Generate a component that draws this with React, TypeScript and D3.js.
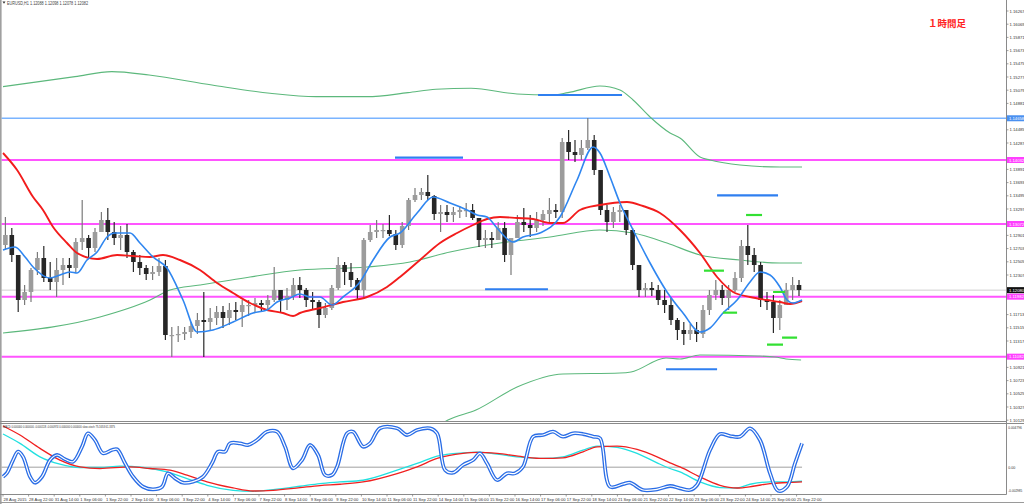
import React from 'react';
import * as d3 from 'd3';

const W = 1024;
const H = 504;

// ---------- axis labels ----------
const PRICE_TICKS = [
  1.16267, 1.16069, 1.15871, 1.15673, 1.15475, 1.15277, 1.15079, 1.14881,
  1.14683, 1.14485, 1.14287, 1.14089, 1.13891, 1.13693, 1.13495, 1.13297,
  1.13099, 1.12901, 1.12703, 1.12505, 1.12307, 1.12109, 1.11911, 1.11713,
  1.11515, 1.11317, 1.11119, 1.10921, 1.10723, 1.10525, 1.10327, 1.10129,
];
const TIME_LABELS = [
  '28 Aug 2015', '28 Aug 22:00', '31 Aug 14:00', '1 Sep 06:00', '1 Sep 22:00', '2 Sep 14:00',
  '3 Sep 06:00', '3 Sep 22:00', '4 Sep 14:00', '7 Sep 06:00', '7 Sep 22:00', '8 Sep 14:00',
  '9 Sep 06:00', '9 Sep 22:00', '10 Sep 14:00', '11 Sep 06:00', '11 Sep 22:00', '14 Sep 14:00',
  '15 Sep 06:00', '15 Sep 22:00', '16 Sep 14:00', '17 Sep 06:00', '17 Sep 22:00', '18 Sep 14:00',
  '21 Sep 06:00', '21 Sep 22:00', '22 Sep 14:00', '23 Sep 06:00', '23 Sep 22:00', '24 Sep 14:00',
  '25 Sep 06:00', '25 Sep 22:00',
];
const HOURS_PER_LABEL = 16;
const HOURS_PER_CANDLE = 4;
const MACD_TICKS = [0.004796, 0, -0.002985];

// ---------- price data (4-hour groups of EURUSD H1) ----------
const OPEN0 = 1.12757;
const HIGHS = [
  1.13177, 1.13012, 1.12607, 1.12157, 1.12412, 1.12652, 1.12742, 1.12502, 1.12562, 1.12562,
  1.12562, 1.12862, 1.13432, 1.12907, 1.13012, 1.13252, 1.13312, 1.13102, 1.13042, 1.13072,
  1.12682, 1.12607, 1.12457, 1.12442, 1.12562, 1.12532, 1.11527, 1.11542, 1.11527, 1.11602,
  1.11737, 1.12052, 1.11812, 1.11842, 1.11842, 1.11887, 1.11902, 1.11932, 1.11932, 1.11962,
  1.11932, 1.12007, 1.12427, 1.12082, 1.12112, 1.12262, 1.12277, 1.12112, 1.12052, 1.11932,
  1.11887, 1.12157, 1.12577, 1.12502, 1.12487, 1.12262, 1.12862, 1.13057, 1.13132, 1.13072,
  1.13207, 1.12982, 1.13102, 1.13462, 1.13612, 1.13612, 1.13807, 1.13507, 1.13357, 1.13357,
  1.13327, 1.13342, 1.13387, 1.13372, 1.13102, 1.12982, 1.12952, 1.13102, 1.13102, 1.12832,
  1.13207, 1.13312, 1.13207, 1.13252, 1.13282, 1.13462, 1.13372, 1.14362, 1.14482, 1.14332,
  1.14332, 1.14662, 1.14407, 1.13882, 1.13357, 1.13327, 1.13357, 1.13282, 1.13012, 1.12457,
  1.12187, 1.12202, 1.12157, 1.12082, 1.11962, 1.11662, 1.11602, 1.11572, 1.11602, 1.11857,
  1.12082, 1.12232, 1.12157, 1.12157, 1.12352, 1.12832, 1.13057, 1.12712, 1.12502, 1.12052,
  1.12007, 1.11932, 1.12187, 1.12277, 1.12232,
];
const LOWS = [
  1.12682, 1.12502, 1.11752, 1.11857, 1.11902, 1.12307, 1.12202, 1.12082, 1.11977, 1.12157,
  1.12262, 1.12352, 1.12682, 1.12562, 1.12652, 1.12982, 1.12832, 1.12757, 1.12682, 1.12562,
  1.12352, 1.12307, 1.12232, 1.12232, 1.12292, 1.11332, 1.11077, 1.11302, 1.11332, 1.11362,
  1.11422, 1.11077, 1.11482, 1.11557, 1.11512, 1.11557, 1.11632, 1.11527, 1.11692, 1.11737,
  1.11752, 1.11782, 1.11902, 1.11752, 1.11782, 1.11932, 1.11962, 1.11827, 1.11782, 1.11512,
  1.11662, 1.11782, 1.12082, 1.12157, 1.12127, 1.11932, 1.11962, 1.12802, 1.12862, 1.12862,
  1.12892, 1.12682, 1.12712, 1.12982, 1.13402, 1.13432, 1.13432, 1.13132, 1.12952, 1.13102,
  1.13102, 1.13162, 1.13177, 1.13132, 1.12727, 1.12712, 1.12712, 1.12832, 1.12502, 1.12307,
  1.12907, 1.12952, 1.12877, 1.12952, 1.13042, 1.13102, 1.13162, 1.13162, 1.14032, 1.14002,
  1.14032, 1.14182, 1.13807, 1.13207, 1.12952, 1.13012, 1.13102, 1.12907, 1.12382, 1.11977,
  1.11977, 1.11992, 1.11857, 1.11737, 1.11557, 1.11332, 1.11257, 1.11332, 1.11302, 1.11362,
  1.11707, 1.11932, 1.11857, 1.11782, 1.12052, 1.12202, 1.12457, 1.12352, 1.11827, 1.11782,
  1.11437, 1.11482, 1.11857, 1.11932, 1.11992,
];
const CLOSES = [
  1.12907, 1.12607, 1.11932, 1.12052, 1.12382, 1.12562, 1.12262, 1.12202, 1.12382, 1.12457,
  1.12412, 1.12802, 1.12862, 1.12712, 1.12952, 1.13132, 1.12952, 1.12862, 1.12907, 1.12652,
  1.12502, 1.12412, 1.12322, 1.12352, 1.12442, 1.11407, 1.11407, 1.11422, 1.11452, 1.11542,
  1.11632, 1.11602, 1.11662, 1.11752, 1.11662, 1.11782, 1.11752, 1.11857, 1.11857, 1.11887,
  1.11857, 1.11932, 1.12082, 1.11932, 1.11992, 1.12157, 1.12082, 1.11932, 1.11902, 1.11707,
  1.11812, 1.12112, 1.12457, 1.12352, 1.12232, 1.12082, 1.12832, 1.12952, 1.12982, 1.12982,
  1.12922, 1.12757, 1.13042, 1.13432, 1.13507, 1.13552, 1.13492, 1.13222, 1.13252, 1.13207,
  1.13252, 1.13282, 1.13282, 1.13162, 1.12832, 1.12862, 1.12832, 1.13012, 1.12607, 1.12862,
  1.13102, 1.13057, 1.13012, 1.13132, 1.13222, 1.13282, 1.13252, 1.14302, 1.14152, 1.14107,
  1.14212, 1.14332, 1.13882, 1.13282, 1.13102, 1.13252, 1.13282, 1.12982, 1.12457, 1.12082,
  1.12112, 1.12082, 1.11932, 1.11857, 1.11632, 1.11482, 1.11422, 1.11482, 1.11422, 1.11782,
  1.12007, 1.12082, 1.11962, 1.12082, 1.12262, 1.12742, 1.12607, 1.12457, 1.11932, 1.11902,
  1.11662, 1.11857, 1.12082, 1.12157, 1.12082,
];

// ---------- moving averages / bands : [hour, price] ----------
const MA_FAST: [number, number][] = [
  [0, 1.12682], [7.5, 1.12727], [13.8, 1.12577], [18.8, 1.12427], [29.4, 1.12262], [35.6, 1.12307],
  [41.9, 1.12352], [46.3, 1.12337], [52.5, 1.12532], [58.8, 1.12652], [65, 1.12877], [70, 1.12937],
  [79.4, 1.12937], [85.6, 1.12787], [93.8, 1.12577], [102.5, 1.12412], [112.5, 1.11932], [121.3, 1.11452],
  [131.3, 1.11482], [143.8, 1.11602], [156.3, 1.11737], [165, 1.11782], [171.3, 1.11902], [179.4, 1.11962],
  [185.6, 1.12022], [191.9, 1.11977], [198.1, 1.11977], [205.6, 1.11857], [212.5, 1.11977], [223.1, 1.12202],
  [231.3, 1.12532], [241.9, 1.12877], [248.1, 1.12937], [258.8, 1.13237], [268.8, 1.13477], [279.4, 1.13387],
  [290, 1.13282], [296.3, 1.13207], [302.5, 1.13177], [308.8, 1.13012], [318.8, 1.12802], [325, 1.12877],
  [335.6, 1.12937], [348.1, 1.13177], [358.8, 1.13732], [368.8, 1.14227], [373.1, 1.14137], [379.4, 1.13777],
  [385.6, 1.13387], [393.8, 1.12982], [404.4, 1.12487], [415, 1.12052], [425, 1.11737], [435.6, 1.11452],
  [441.9, 1.11512], [450, 1.11737], [458.8, 1.11932], [466.9, 1.12202], [473.1, 1.12352], [479.4, 1.12307],
  [485.6, 1.12127], [490, 1.11932], [493.8, 1.11887], [499.4, 1.11932],
];
const MA_SLOW: [number, number][] = [
  [0, 1.14137], [8.8, 1.13882], [18.8, 1.13477], [25, 1.13282], [31.3, 1.13027], [40, 1.12787],
  [46.3, 1.12637], [58.8, 1.12547], [71.3, 1.12607], [81.3, 1.12592], [91.9, 1.12577], [100, 1.12607],
  [110.6, 1.12532], [123.1, 1.12382], [133.8, 1.12187], [143.8, 1.12037], [154.4, 1.11887], [165, 1.11782],
  [175, 1.11737], [181.3, 1.11692], [185.6, 1.11737], [198.1, 1.11812], [212.5, 1.11902], [227.5, 1.11977],
  [240, 1.12127], [248.1, 1.12277], [260.6, 1.12532], [273.1, 1.12787], [283.8, 1.12937], [293.8, 1.13057],
  [302.5, 1.13147], [310.6, 1.13177], [321.3, 1.13162], [331.3, 1.13147], [341.9, 1.13087], [350, 1.13087],
  [360.6, 1.13282], [373.1, 1.13357], [390, 1.13402], [400, 1.13342], [410.6, 1.13237], [423.1, 1.12982],
  [435.6, 1.12637], [446.3, 1.12277], [456.3, 1.12052], [466.9, 1.11977], [477.5, 1.11932], [485.6, 1.11902],
  [491.9, 1.11872], [499.4, 1.11917],
];
const BAND_UPPER: [number, number][] = [
  [0, 1.15132], [45, 1.15282], [68, 1.15357], [91.3, 1.15307], [130.6, 1.15157], [166.9, 1.15033],
  [195.6, 1.14982], [227.5, 1.14982], [253.1, 1.15042], [270.6, 1.15093], [292.5, 1.15108], [321.3, 1.15022],
  [342.5, 1.15007], [353.1, 1.15042], [373.1, 1.15142], [385.6, 1.15082], [393.8, 1.14932], [404.4, 1.14677],
  [416.9, 1.14437], [423.1, 1.14362], [435.6, 1.14077], [441.9, 1.14032], [460.6, 1.13957], [485.6, 1.13927],
  [499.4, 1.13927],
];
const BAND_MID: [number, number][] = [
  [0, 1.11437], [60.6, 1.11677], [91.9, 1.11932], [104.4, 1.12082], [123.1, 1.12157], [154.4, 1.12277],
  [185.6, 1.12382], [227.5, 1.12427], [254.4, 1.12502], [279.4, 1.12652], [310.6, 1.12787], [341.9, 1.12877],
  [373.1, 1.12982], [393.8, 1.12937], [415, 1.12787], [435.6, 1.12607], [460.6, 1.12532], [485.6, 1.12487],
  [499.4, 1.12487],
];
const BAND_LOWER: [number, number][] = [
  [260.6, 1.09832], [278.1, 1.10132], [295.6, 1.10282], [321.3, 1.10627], [350, 1.10822], [385.6, 1.10837],
  [392.5, 1.10852], [414.4, 1.11062], [423.1, 1.11047], [435.6, 1.11107], [471.9, 1.11092], [482.5, 1.11077],
  [489.4, 1.11047], [498.8, 1.11032],
];

// ---------- drawn levels ----------
const BLUE_LEVEL = 1.14658;
const MAGENTA_LEVELS = [1.14032, 1.13072, 1.11982, 1.11082];
const BID = 1.1208;
const BLUE_SEGMENTS: [number, number, number][] = [
  [245, 287.5, 1.14067], [334.4, 386.9, 1.15007], [301.3, 340.6, 1.12093],
  [446.3, 484.4, 1.13502], [414.4, 446.3, 1.10893],
];
const GREEN_SEGMENTS: [number, number, number][] = [
  [464.4, 474.4, 1.13207], [438.1, 450.6, 1.12372], [450, 458.8, 1.11742],
  [481.3, 488.8, 1.12052], [477.5, 487.5, 1.11262], [486.9, 496.3, 1.11367],
];

// ---------- sub-window ----------
const MACD_SIGNAL: [number, number][] = [
  [0, 0.004761], [10.6, 0.003716], [23.1, 0.002172], [35.6, 0.000813], [48.1, 0.000035], [60.6, -0.000151],
  [79.4, 0.000035], [91.9, -0.000151], [104.4, -0.000348], [115, -0.000929], [127.5, -0.001707], [143.8, -0.002404],
  [156.3, -0.002752], [168.8, -0.002671], [185.6, -0.002357], [198.1, -0.002125], [210.6, -0.001974], [225, -0.001707],
  [246.3, -0.000732], [258.8, 0.000035], [271.3, 0.00101], [287.5, 0.001591], [296.3, 0.001707], [308.8, 0.001591],
  [325, 0.001196], [337.5, 0.00101], [350, 0.00108], [362.5, 0.001777], [371.3, 0.002357], [383.8, 0.002439],
  [396.3, 0.002055], [408.8, 0.001196], [416.9, 0.000499], [423.1, 0.000035], [435.6, -0.001126], [448.1, -0.00209],
  [458.8, -0.002404], [468.8, -0.002206], [479.4, -0.001893], [490, -0.001777], [499.4, -0.001707],
];
const MACD_MAIN: [number, number][] = [
  [0, 0.003832], [10.6, 0.002752], [23.1, 0.001196], [35.6, 0.000348], [48.1, -0.000035], [60.6, -0.000035],
  [73.1, 0.000116], [87.5, -0.000035], [102.5, -0.000546], [115, -0.001312], [127.5, -0.00209], [143.8, -0.002671],
  [156.3, -0.002787], [168.8, -0.00259], [185.6, -0.002206], [198.1, -0.001893], [210.6, -0.001707], [225, -0.00151],
  [246.3, -0.000348], [258.8, 0.00043], [271.3, 0.001277], [287.5, 0.001661], [296.3, 0.001742], [308.8, 0.00151],
  [325, 0.001126], [337.5, 0.00101], [350, 0.001196], [362.5, 0.001974], [371.3, 0.002439], [383.8, 0.002288],
  [396.3, 0.001591], [408.8, 0.000499], [416.9, -0.000151], [423.1, -0.000546], [435.6, -0.001707], [448.1, -0.002357],
  [458.8, -0.002404], [466.9, -0.001974], [479.4, -0.001707], [490, -0.001707], [499.4, -0.001626],
];
const STOCH: [number, number][] = [
  [0, 22.9], [2.5, 28.7], [6.3, 48.8], [9.4, 61.7], [12.5, 54.0], [16.9, 22.9], [20, 13.6], [24.4, 22.9],
  [29.4, 48.8], [33.8, 56.6], [38.8, 49.9], [43.8, 46.2], [49.4, 69.5], [53.1, 90.2], [57.5, 79.8], [62.5, 59.2],
  [68.1, 64.3], [71.3, 65.4], [76.3, 43.7], [81.3, 22.9], [87.5, 7.4], [93.8, 3.4], [99.4, 7.4], [103.1, 28.2],
  [107.5, 20.5], [112.5, 13.6], [118.8, 15.2], [125, 22.9], [130.6, 43.7], [134.4, 61.7], [138.8, 61.7], [141.9, 74.7],
  [148.1, 74.7], [153.1, 72.1], [158.8, 79.8], [165, 92.7], [171.3, 92.7], [176.3, 69.5], [181.3, 36.0], [186.9, 48.8],
  [191.9, 72.1], [196.9, 56.6], [201.3, 25.6], [205.6, 25.6], [208.8, 38.4], [215, 90.2], [218.8, 92.7], [225, 69.5],
  [229.4, 74.7], [235.6, 98.0], [246.3, 98.0], [252.5, 87.6], [258.8, 95.3], [266.9, 98.0], [271.3, 90.2], [276.3, 33.3],
  [281.3, 29.1], [287.5, 41.1], [293.8, 48.8], [298.1, 59.2], [302.5, 43.7], [308.8, 17.8], [315, 28.2], [320, 28.2],
  [325, 38.4], [331.3, 85.0], [337.5, 87.6], [343.8, 92.7], [350, 85.0], [356.3, 90.2], [362.5, 89.1], [368.8, 85.0],
  [373.1, 82.5], [379.4, 7.4], [387.5, 11.6], [391.9, 13.6], [400, 2.3], [408.8, 3.4], [416.9, 8.5], [423.1, 5.0],
  [429.4, 2.3], [433.8, 10.1], [441.9, 64.3], [448.1, 89.1], [454.4, 86.0], [460.6, 85.0], [466.9, 98.0], [473.1, 79.8],
  [479.4, 28.2], [484.4, 1.2], [490, 7.4], [495, 43.7], [499.4, 74.7],
];

const TITLE = 'EURUSD,H1  1.12088 1.12098 1.12078 1.12082';
const SUB_TITLE = 'MACD 0.000000 0.000000 -0.000118 -0.000974 0.000000 0.000000   slow-stoch 75.1653 61.3375';
const NOTE = '１時間足';

const FONT = "'Liberation Sans', Arial, sans-serif";

export default function App() {
  const x = d3.scaleLinear().domain([0, 496]).range([3, 796.6]);
  const y = d3.scaleLinear().domain([1.10129, 1.16267]).range([420.2, 11]);
  const yM = d3.scaleLinear().domain([-0.002985, 0.004796]).range([493, 425.7]);
  const yS = d3.scaleLinear().domain([0, 100]).range([491.5, 427]);

  const priceLine = d3.line<[number, number]>().x(d => x(d[0])).y(d => y(d[1])).curve(d3.curveMonotoneX);
  const macdLine = d3.line<[number, number]>().x(d => x(d[0])).y(d => yM(d[1])).curve(d3.curveMonotoneX);
  const stochLine = d3.line<[number, number]>().x(d => x(d[0])).y(d => yS(d[1])).curve(d3.curveCatmullRom.alpha(0.5));

  const candles = CLOSES.map((c, i) => {
    const o = i === 0 ? OPEN0 : CLOSES[i - 1];
    const hi = Math.max(HIGHS[i], o, c);
    const lo = Math.min(LOWS[i], o, c);
    return { cx: x(i * HOURS_PER_CANDLE + 1.5), o, c, hi, lo };
  });

  const axisX = 1006.5;
  const fmt = (v: number) => v.toFixed(5);
  const tagLevels = [BLUE_LEVEL, BID, ...MAGENTA_LEVELS];
  const visibleTicks = PRICE_TICKS.filter(v => tagLevels.every(t => Math.abs(y(v) - y(t)) > 5.5));

  const axisTag = (v: number, bg: string, key: string) => (
    <g key={key}>
      <rect x={1007} y={y(v) - 3} width={17} height={6} fill={bg} />
      <text x={1009} y={y(v) + 1.6} fontSize={4.2} fill="#fff" fontFamily={FONT}>{fmt(v)}</text>
    </g>
  );

  return (
    <svg width={W} height={H} style={{ position: 'absolute', left: 0, top: 0, background: '#fff' }}
      xmlns="http://www.w3.org/2000/svg">
      <defs>
        <clipPath id="mainClip"><rect x={1.5} y={0} width={1005} height={421} /></clipPath>
        <clipPath id="subClip"><rect x={1.5} y={424} width={1005} height={70} /></clipPath>
      </defs>
      <rect x={0} y={0} width={W} height={H} fill="#fff" />

      {/* ---------- main window ---------- */}
      <g clipPath="url(#mainClip)">
        <line x1={0} x2={axisX} y1={y(BID)} y2={y(BID)} stroke="#cfcfcf" strokeWidth={1} />
        <line x1={0} x2={axisX} y1={y(BLUE_LEVEL)} y2={y(BLUE_LEVEL)} stroke="#7ab4ff" strokeWidth={1.6} />
        {MAGENTA_LEVELS.map((v, i) => (
          <line key={'m' + i} x1={0} x2={axisX} y1={y(v)} y2={y(v)} stroke="#ff55ff" strokeWidth={2} />
        ))}

        {[BAND_UPPER, BAND_MID, BAND_LOWER].map((b, i) => (
          <path key={'b' + i} d={priceLine(b) || ''} fill="none" stroke="#5cb87c" strokeWidth={1.1} />
        ))}

        {candles.map((k, i) => {
          const up = k.c >= k.o;
          const top = y(Math.max(k.o, k.c));
          const bot = y(Math.min(k.o, k.c));
          return (
            <g key={'c' + i}>
              <line x1={k.cx} x2={k.cx} y1={y(k.hi)} y2={y(k.lo)} stroke={up ? '#7a7a7a' : '#2a2a2a'} strokeWidth={1.2} />
              <rect x={k.cx - 2.3} y={top} width={4.6} height={Math.max(1.2, bot - top)}
                fill={up ? '#9c9c9c' : '#262626'} />
            </g>
          );
        })}

        <path d={priceLine(MA_SLOW) || ''} fill="none" stroke="#f21c1c" strokeWidth={1.9} />
        <path d={priceLine(MA_FAST) || ''} fill="none" stroke="#2f86f0" strokeWidth={1.6} />

        {BLUE_SEGMENTS.map((s, i) => (
          <line key={'bs' + i} x1={x(s[0])} x2={x(s[1])} y1={y(s[2])} y2={y(s[2])} stroke="#2f7ff0" strokeWidth={2.2} />
        ))}
        {GREEN_SEGMENTS.map((s, i) => (
          <line key={'gs' + i} x1={x(s[0])} x2={x(s[1])} y1={y(s[2])} y2={y(s[2])} stroke="#33e033" strokeWidth={2.2} />
        ))}
      </g>

      <path d="M2.5,1.5 L5.5,1.5 L4,3.8 Z" fill="#333" />
      <text x={7} y={4.6} fontSize={4.6} fill="#444" fontFamily={FONT} textLength={81} lengthAdjust="spacingAndGlyphs">{TITLE}</text>
      <text x={928} y={26.5} fontSize={9.5} fontWeight="bold" fill="#ff2222"
        fontFamily="'Noto Sans CJK JP', sans-serif">{NOTE}</text>

      {/* ---------- sub window ---------- */}
      <g clipPath="url(#subClip)">
        <line x1={0} x2={x(499.4)} y1={yM(0)} y2={yM(0)} stroke="#a0a0a0" strokeWidth={1} />
        <path d={macdLine(MACD_MAIN) || ''} fill="none" stroke="#22e0e0" strokeWidth={1.3} />
        <path d={macdLine(MACD_SIGNAL) || ''} fill="none" stroke="#f02020" strokeWidth={1.3} />
        <path d={stochLine(STOCH) || ''} fill="none" stroke="#2a6de6" strokeWidth={3.8} strokeLinejoin="round" />
        <path d={stochLine(STOCH) || ''} fill="none" stroke="#ffffff" strokeWidth={1.2} strokeLinejoin="round" />
      </g>
      <text x={3} y={428.3} fontSize={4.2} fill="#333" fontFamily={FONT} textLength={112} lengthAdjust="spacingAndGlyphs">{SUB_TITLE}</text>

      {/* ---------- frames ---------- */}
      <rect x={0} y={0} width={1.6} height={H} fill="#a0a0a0" />
      <line x1={0} x2={axisX} y1={421.5} y2={421.5} stroke="#8a8a8a" strokeWidth={1} />
      <line x1={0} x2={W} y1={423.5} y2={423.5} stroke="#8a8a8a" strokeWidth={1} />
      <line x1={0} x2={axisX} y1={494.5} y2={494.5} stroke="#8a8a8a" strokeWidth={1} />
      <line x1={0} x2={W} y1={502.5} y2={502.5} stroke="#9a9a9a" strokeWidth={1} />
      <line x1={axisX} x2={axisX} y1={0} y2={494.5} stroke="#8a8a8a" strokeWidth={1} />

      {visibleTicks.map((v, i) => (
        <g key={'pt' + i}>
          <line x1={axisX} x2={axisX + 2} y1={y(v)} y2={y(v)} stroke="#777" strokeWidth={0.7} />
          <text x={1009.5} y={y(v) + 1.5} fontSize={4.2} fill="#333" fontFamily={FONT}>{fmt(v)}</text>
        </g>
      ))}
      {axisTag(BLUE_LEVEL, '#4a90f0', 'tb')}
      {MAGENTA_LEVELS.map((v, i) => axisTag(v, '#ff40ff', 'tm' + i))}
      {axisTag(BID, '#111', 'tbid')}

      {MACD_TICKS.map((v, i) => {
        const label = v === 0 ? '0.00' : v.toFixed(6);
        return (
          <text key={'mt' + i} x={1008.3} y={Math.min(492, Math.max(428.5, yM(v) + 1.5))} fontSize={3.6} fill="#333"
            fontFamily={FONT} textLength={v === 0 ? undefined : (v < 0 ? 14 : 13.5)}
            lengthAdjust="spacingAndGlyphs">
            {label}
          </text>
        );
      })}

      {TIME_LABELS.map((t, i) => (
        <g key={'tl' + i}>
          <line x1={x(i * HOURS_PER_LABEL)} x2={x(i * HOURS_PER_LABEL)} y1={494.5} y2={496.5} stroke="#777" strokeWidth={0.7} />
          <text x={x(i * HOURS_PER_LABEL) + 0.5} y={500.6} fontSize={4.1} fill="#333" fontFamily={FONT}>{t}</text>
        </g>
      ))}
    </svg>
  );
}
